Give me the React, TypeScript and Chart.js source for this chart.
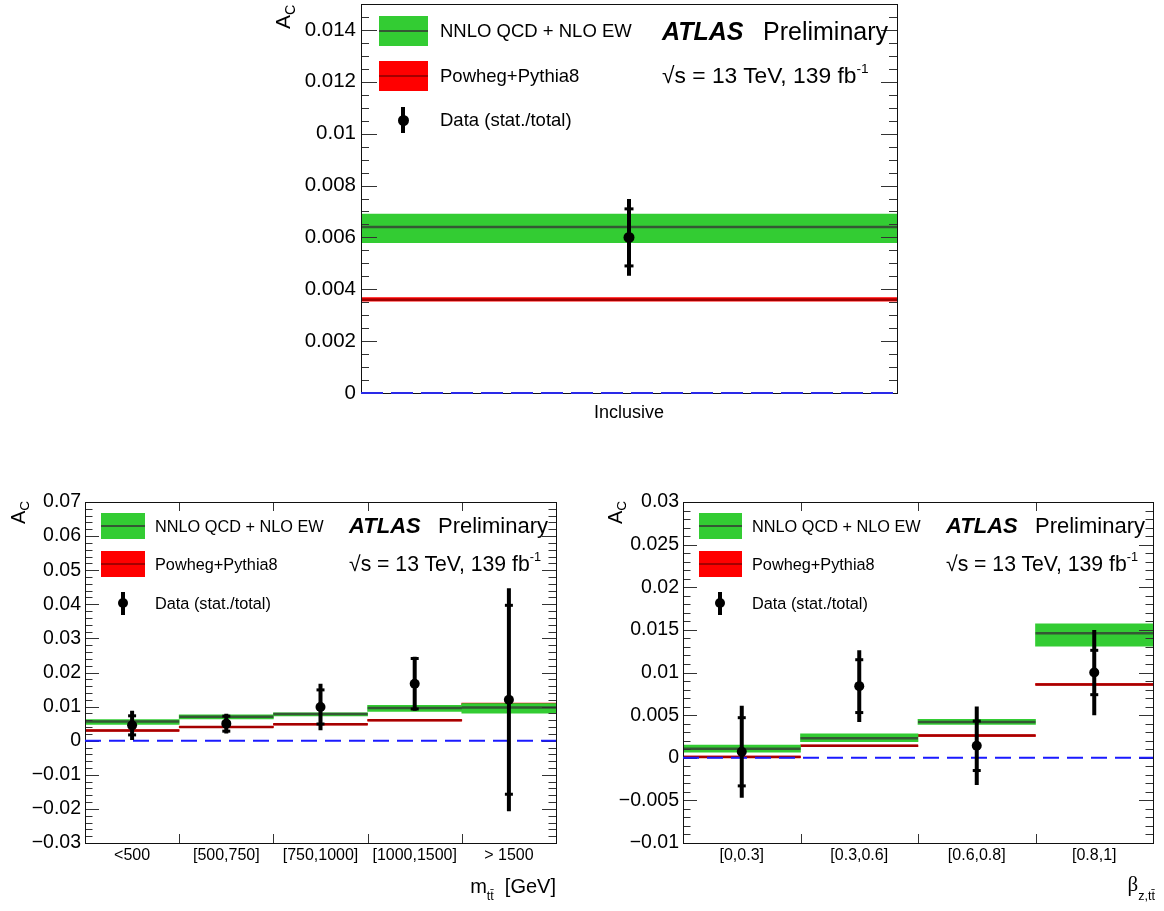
import React, { useEffect, useRef } from 'react';
import { Chart, registerables } from 'chart.js';
Chart.register(...registerables);

const FONT = '"Liberation Sans", Arial, Helvetica, sans-serif';
const GREEN = '#33cc33';
const GREEN_LINE = 'rgb(52,88,52)';
const RED = '#ff0000';
const RED_LINE = 'rgb(165,0,0)';

// ---------- Inclusive ----------
const incBins = ['Inclusive'];
const incNnlo = [0.0064];
const incNnloLo = [0.0058];
const incNnloHi = [0.0069];
const incPowheg = [0.0036];
const incPowhegLo = [0.00354];
const incPowhegHi = [0.00368];
const incData = [0.006];
const incStat = [0.0011];
const incTotal = [0.00148];
const incYTicks = [0, 0.002, 0.004, 0.006, 0.008, 0.01, 0.012, 0.014];
const incYLabels = ['0', '0.002', '0.004', '0.006', '0.008', '0.01', '0.012', '0.014'];

// ---------- m_tt ----------
const mBins = ['<500', '[500,750]', '[750,1000]', '[1000,1500]', '> 1500'];
const mNnlo = [0.0056, 0.007, 0.0078, 0.0096, 0.0097];
const mNnloLo = [0.0048, 0.0064, 0.0073, 0.0086, 0.0081];
const mNnloHi = [0.0062, 0.0076, 0.0082, 0.0104, 0.0109];
const mPowheg = [0.003, 0.004, 0.0048, 0.006, 0.0106];
const mPowhegLo = [0.0028, 0.0038, 0.0046, 0.0058, 0.0101];
const mPowhegHi = [0.0032, 0.0042, 0.005, 0.0062, 0.011];
const mData = [0.0045, 0.005, 0.0099, 0.0167, 0.012];
const mStat = [0.0028, 0.0022, 0.005, 0.0074, 0.0277];
const mTotal = [0.0043, 0.0029, 0.0068, 0.0079, 0.0327];
const mYTicks = [-0.03, -0.02, -0.01, 0, 0.01, 0.02, 0.03, 0.04, 0.05, 0.06, 0.07];
const mYLabels = ['\u22120.03', '\u22120.02', '\u22120.01', '0', '0.01', '0.02', '0.03', '0.04', '0.05', '0.06', '0.07'];

// ---------- beta_z ----------
const bBins = ['[0,0.3]', '[0.3,0.6]', '[0.6,0.8]', '[0.8,1]'];
const bNnlo = [0.00105, 0.0023, 0.0042, 0.0146];
const bNnloLo = [0.00066, 0.0019, 0.0039, 0.0131];
const bNnloHi = [0.0015, 0.0028, 0.0045, 0.0157];
const bPowheg = [0.0001, 0.0014, 0.0026, 0.0086];
const bPowhegLo = [0.0, 0.0013, 0.0025, 0.0085];
const bPowhegHi = [0.0002, 0.0015, 0.0027, 0.0087];
const bData = [0.0007, 0.0084, 0.0014, 0.01];
const bStat = [0.004, 0.0031, 0.0029, 0.0026];
const bTotal = [0.0054, 0.0042, 0.0046, 0.005];
const bYTicks = [-0.01, -0.005, 0, 0.005, 0.01, 0.015, 0.02, 0.025, 0.03];
const bYLabels = ['\u22120.01', '\u22120.005', '0', '0.005', '0.01', '0.015', '0.02', '0.025', '0.03'];

const refLevel = 0;
const legendLabels = ['NNLO QCD + NLO EW', 'Powheg+Pythia8', 'Data (stat./total)'];

type Spec = {
  bins: string[]; nnlo: number[]; nnloLo: number[]; nnloHi: number[];
  powheg: number[]; powhegLo: number[]; powhegHi: number[];
  data: number[]; stat: number[]; total: number[];
  yTicks: number[]; yLabels: string[];
  yMin: number; yMax: number; yMinor: number; yMajor: number;
  canvas: { left: number; top: number; width: number; height: number };
  area: { l: number; t: number; r: number; b: number };
  yFont: number; xFont: number; xPad: number; yPad: number;
  majorLen: number; minorLen: number; xTickLen: number;
  dash: number[]; dashWidth: number; dashColor: string;
  errW: number; pointR: number; statR: number; lineW: number;
};

const specs: Spec[] = [
  {
    bins: incBins, nnlo: incNnlo, nnloLo: incNnloLo, nnloHi: incNnloHi,
    powheg: incPowheg, powhegLo: incPowhegLo, powhegHi: incPowhegHi,
    data: incData, stat: incStat, total: incTotal,
    yTicks: incYTicks, yLabels: incYLabels,
    yMin: 0, yMax: 0.015, yMinor: 0.0005, yMajor: 0.002,
    canvas: { left: 250, top: -20, width: 670, height: 450 },
    area: { l: 361, t: 4, r: 897, b: 393 },
    yFont: 20.5, xFont: 18, xPad: 9, yPad: 5,
    majorLen: 16, minorLen: 8, xTickLen: 9,
    dash: [22, 8], dashWidth: 2, dashColor: '#2a2ae8',
    errW: 4, pointR: 5.5, statR: 4.5, lineW: 2.5,
  },
  {
    bins: mBins, nnlo: mNnlo, nnloLo: mNnloLo, nnloHi: mNnloHi,
    powheg: mPowheg, powhegLo: mPowhegLo, powhegHi: mPowhegHi,
    data: mData, stat: mStat, total: mTotal,
    yTicks: mYTicks, yLabels: mYLabels,
    yMin: -0.03, yMax: 0.07, yMinor: 0.002, yMajor: 0.01,
    canvas: { left: 0, top: 478, width: 575, height: 402 },
    area: { l: 85, t: 502, r: 556, b: 843 },
    yFont: 19.5, xFont: 16, xPad: 3, yPad: 4,
    majorLen: 14, minorLen: 7.5, xTickLen: 9,
    dash: [16, 8], dashWidth: 2, dashColor: '#1a1aff',
    errW: 4, pointR: 5, statR: 4, lineW: 2.5,
  },
  {
    bins: bBins, nnlo: bNnlo, nnloLo: bNnloLo, nnloHi: bNnloHi,
    powheg: bPowheg, powhegLo: bPowhegLo, powhegHi: bPowhegHi,
    data: bData, stat: bStat, total: bTotal,
    yTicks: bYTicks, yLabels: bYLabels,
    yMin: -0.01, yMax: 0.03, yMinor: 0.001, yMajor: 0.005,
    canvas: { left: 590, top: 478, width: 574, height: 402 },
    area: { l: 683, t: 502, r: 1153, b: 843 },
    yFont: 19.5, xFont: 16, xPad: 3, yPad: 4,
    majorLen: 14, minorLen: 7.5, xTickLen: 9,
    dash: [16, 8], dashWidth: 2, dashColor: '#1a1aff',
    errW: 4, pointR: 5, statR: 4, lineW: 2.5,
  },
];

// frame and ticks are drawn right after the model lines (dataset index 3)
const FRAME_AFTER_INDEX = 3;

function makePlugin(s: Spec) {
  return {
    id: 'rootFrame',
    afterDatasetDraw(chart: any, args: any) {
      if (args.index !== FRAME_AFTER_INDEX) return;
      const { ctx, chartArea: a, scales } = chart;
      const y = scales.y;
      const x2 = scales.x2;
      ctx.save();
      ctx.strokeStyle = '#333';
      ctx.lineWidth = 1;
      const n = Math.round((s.yMax - s.yMin) / s.yMinor);
      for (let i = 0; i <= n; i++) {
        const v = s.yMin + i * s.yMinor;
        const r = v / s.yMajor;
        const major = Math.abs(r - Math.round(r)) < 1e-6;
        const len = major ? s.majorLen : s.minorLen;
        const py = Math.round(y.getPixelForValue(v)) + 0.5;
        ctx.beginPath();
        ctx.moveTo(a.left, py); ctx.lineTo(a.left + len, py);
        ctx.moveTo(a.right, py); ctx.lineTo(a.right - len, py);
        ctx.stroke();
      }
      for (let i = 1; i < s.bins.length; i++) {
        const px = Math.round(x2.getPixelForValue(i)) + 0.5;
        ctx.beginPath();
        ctx.moveTo(px, a.bottom); ctx.lineTo(px, a.bottom - s.xTickLen);
        ctx.moveTo(px, a.top); ctx.lineTo(px, a.top + s.xTickLen);
        ctx.stroke();
      }
      ctx.strokeStyle = '#111';
      ctx.strokeRect(Math.round(a.left) + 0.5, Math.round(a.top) + 0.5, Math.round(a.right - a.left), Math.round(a.bottom - a.top));
      ctx.restore();
    },
  };
}

function buildConfig(s: Spec): any {
  const n = s.bins.length;
  const seg = (vals: number[]) =>
    vals.flatMap((v, i) => [{ x: i, y: v }, { x: i + 1, y: v }, { x: i + 1, y: null }]);
  const errBars = s.data.flatMap((v, i) => [
    { x: i + 0.5, y: v - s.total[i] }, { x: i + 0.5, y: v + s.total[i] }, { x: i + 0.5, y: null },
  ]);
  const statPts = s.data.flatMap((v, i) => [
    { x: i + 0.5, y: v - s.stat[i] }, { x: i + 0.5, y: v + s.stat[i] },
  ]);
  const pts = s.data.map((v, i) => ({ x: i + 0.5, y: v }));
  const yw = s.area.l - s.canvas.left;
  const xh = s.canvas.top + s.canvas.height - s.area.b;
  return {
    type: 'bar',
    data: {
      labels: s.bins,
      datasets: [
        { type: 'bar', data: s.powheg.map((_, i) => [s.powhegLo[i], s.powhegHi[i]]), backgroundColor: RED,
          barPercentage: 1, categoryPercentage: 1, borderWidth: 0, grouped: false, xAxisID: 'x', yAxisID: 'y', order: 10 },
        { type: 'line', data: seg(s.powheg), borderColor: RED_LINE, borderWidth: s.lineW, pointRadius: 0,
          xAxisID: 'x2', yAxisID: 'y', order: 9 },
        { type: 'bar', data: s.nnlo.map((_, i) => [s.nnloLo[i], s.nnloHi[i]]), backgroundColor: GREEN,
          barPercentage: 1, categoryPercentage: 1, borderWidth: 0, grouped: false, xAxisID: 'x', yAxisID: 'y', order: 8 },
        { type: 'line', data: seg(s.nnlo), borderColor: GREEN_LINE, borderWidth: s.lineW, pointRadius: 0,
          xAxisID: 'x2', yAxisID: 'y', order: 7 },
        { type: 'line', data: [{ x: 0, y: refLevel }, { x: n, y: refLevel }], borderColor: s.dashColor,
          borderWidth: s.dashWidth, borderDash: s.dash, pointRadius: 0, clip: false,
          xAxisID: 'x2', yAxisID: 'y', order: 6 },
        { type: 'line', data: errBars, borderColor: '#000', borderWidth: s.errW, pointRadius: 0,
          borderCapStyle: 'butt', xAxisID: 'x2', yAxisID: 'y', order: 3 },
        { type: 'line', data: statPts, showLine: false, pointStyle: 'line', pointRadius: s.statR,
          pointBorderWidth: 3, pointBorderColor: '#000', borderColor: '#000', xAxisID: 'x2', yAxisID: 'y', order: 2 },
        { type: 'line', data: pts, showLine: false, pointStyle: 'circle', pointRadius: s.pointR,
          pointBackgroundColor: '#000', pointBorderWidth: 0, xAxisID: 'x2', yAxisID: 'y', order: 1 },
      ],
    },
    options: {
      responsive: false,
      animation: false,
      events: [],
      layout: {
        padding: {
          left: 0,
          top: s.area.t - s.canvas.top,
          right: s.canvas.left + s.canvas.width - s.area.r,
          bottom: 0,
        },
      },
      plugins: { legend: { display: false }, tooltip: { enabled: false } },
      scales: {
        x: {
          type: 'category', offset: true,
          grid: { display: false, drawTicks: false }, border: { display: false },
          ticks: { font: { family: FONT, size: s.xFont }, color: '#000', padding: s.xPad, maxRotation: 0, autoSkip: false },
          afterFit: (sc: any) => { sc.height = xh; },
        },
        x2: { type: 'linear', min: 0, max: n, display: false, offset: false },
        y: {
          type: 'linear', min: s.yMin, max: s.yMax,
          grid: { display: false, drawTicks: false }, border: { display: false },
          afterBuildTicks: (sc: any) => { sc.ticks = s.yTicks.map((v) => ({ value: v })); },
          ticks: {
            callback: (_v: any, i: number) => s.yLabels[i],
            font: { family: FONT, size: s.yFont }, color: '#000', padding: s.yPad,
          },
          afterFit: (sc: any) => { sc.width = yw; },
        },
      },
    },
    plugins: [makePlugin(s)],
  };
}

function ChartCanvas({ s }: { s: Spec }) {
  const ref = useRef<HTMLCanvasElement>(null);
  useEffect(() => {
    if (!ref.current) return;
    const ch = new Chart(ref.current, buildConfig(s));
    return () => ch.destroy();
  }, [s]);
  return (
    <canvas
      ref={ref}
      width={s.canvas.width}
      height={s.canvas.height}
      style={{ position: 'absolute', left: s.canvas.left, top: s.canvas.top, width: s.canvas.width, height: s.canvas.height }}
    />
  );
}

const Txt = ({ x, cy, size, children, weight = 'normal', italic = false, right = false, family = FONT }: any) => (
  <div
    style={{
      position: 'absolute',
      left: right ? undefined : x,
      right: right ? 1164 - x : undefined,
      top: cy - 0.49 * size,
      fontSize: size,
      lineHeight: `${size}px`,
      fontFamily: family,
      fontWeight: weight,
      fontStyle: italic ? 'italic' : 'normal',
      whiteSpace: 'nowrap',
      color: '#000',
    }}
  >
    {children}
  </div>
);

type LegSpec = {
  boxL: number; boxW: number; boxH: number; rows: number[]; textL: number; size: number;
  mx: number; r: number; barH: number; atlasL: number; prelimL: number; atlasSize: number;
  sqrtSize: number; lineH: number;
};

const legs: LegSpec[] = [
  { boxL: 379, boxW: 49, boxH: 30, rows: [31, 76, 120], textL: 440, size: 18.5, mx: 403, r: 5.5, barH: 13,
    atlasL: 662, prelimL: 763, atlasSize: 25, sqrtSize: 22.8, lineH: 2.5 },
  { boxL: 101, boxW: 44, boxH: 26, rows: [526, 564, 603], textL: 155, size: 16.3, mx: 123, r: 5, barH: 11.5,
    atlasL: 349, prelimL: 438, atlasSize: 22, sqrtSize: 21.2, lineH: 2.5 },
  { boxL: 699, boxW: 43, boxH: 26, rows: [526, 564, 603], textL: 752, size: 16.3, mx: 720, r: 5, barH: 11.5,
    atlasL: 946, prelimL: 1035, atlasSize: 22, sqrtSize: 21.2, lineH: 2.5 },
];

function Legend({ L }: { L: LegSpec }) {
  const box = (cy: number, bg: string, line: string) => (
    <div style={{ position: 'absolute', left: L.boxL, top: cy - L.boxH / 2, width: L.boxW, height: L.boxH, background: bg }}>
      <div style={{ position: 'absolute', left: 0, right: 0, top: L.boxH / 2 - L.lineH / 2, height: L.lineH, background: line }} />
    </div>
  );
  return (
    <>
      {box(L.rows[0], GREEN, GREEN_LINE)}
      {box(L.rows[1], RED, RED_LINE)}
      <div style={{ position: 'absolute', left: L.mx - 2, top: L.rows[2] - L.barH, width: 4, height: 2 * L.barH, background: '#000' }} />
      <div style={{ position: 'absolute', left: L.mx - L.r, top: L.rows[2] - L.r, width: 2 * L.r, height: 2 * L.r, borderRadius: '50%', background: '#000' }} />
      {legendLabels.map((t, i) => (
        <Txt key={t} x={L.textL} cy={L.rows[i]} size={L.size}>{t}</Txt>
      ))}
      <Txt x={L.atlasL} cy={L.rows[0]} size={L.atlasSize} weight="bold" italic>ATLAS</Txt>
      <Txt x={L.prelimL} cy={L.rows[0]} size={L.atlasSize}>Preliminary</Txt>
      <Txt x={L.atlasL} cy={L.rows[1] - 1} size={L.sqrtSize}>
        {'\u221As = 13 TeV, 139 fb'}
        <span style={{ fontSize: '0.6em', position: 'relative', top: '-0.75em' }}>-1</span>
      </Txt>
    </>
  );
}

const YTitle = ({ x, bottom, size }: any) => (
  <div
    style={{
      position: 'absolute', left: x, top: bottom, transformOrigin: '0 0', transform: 'rotate(-90deg)',
      fontFamily: FONT, fontSize: size, lineHeight: `${size}px`, whiteSpace: 'nowrap', color: '#000',
    }}
  >
    A<span style={{ fontSize: '0.68em', position: 'relative', top: '0.32em' }}>C</span>
  </div>
);

export default function App() {
  return (
    <div style={{ position: 'fixed', left: 0, top: 0, width: 1164, height: 911, background: '#fff', overflow: 'hidden' }}>
      {specs.map((s, i) => (
        <ChartCanvas key={i} s={s} />
      ))}
      {legs.map((L, i) => (
        <Legend key={i} L={L} />
      ))}
      <YTitle x={272} bottom={29} size={21} />
      <YTitle x={8} bottom={524} size={20} />
      <YTitle x={605} bottom={524} size={20} />
      <Txt x={556} cy={886} size={20} right>
        m
        <span style={{ fontSize: '0.62em', position: 'relative', top: '0.55em' }}>{'tt\u0304'}</span>
        {'\u00a0 [GeV]'}
      </Txt>
      <Txt x={1155} cy={884} size={21} right family='"Liberation Serif", "Times New Roman", serif'>
        {'\u03B2'}
        <span style={{ fontFamily: FONT, fontSize: '0.6em', position: 'relative', top: '0.7em' }}>{'z,tt\u0304'}</span>
      </Txt>
    </div>
  );
}
